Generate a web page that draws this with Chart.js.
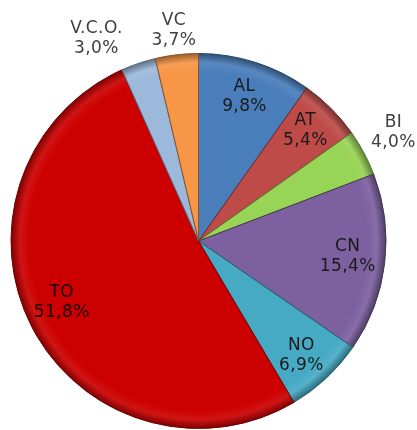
<!DOCTYPE html>
<html>
<head>
<meta charset="utf-8">
<script src="https://cdn.jsdelivr.net/npm/chart.js@4.4.0/dist/chart.umd.min.js"></script>
<style>
html, body { margin: 0; padding: 0; background: #fff; }
#wrap { width: 417px; height: 430px; }
</style>
</head>
<body>
<div id="wrap"><canvas id="myChart"></canvas></div>
<script>
const labels = ['AL', 'AT', 'BI', 'CN', 'NO', 'TO', 'V.C.O.', 'VC'];
const shares = [9.8, 5.4, 4.0, 15.4, 6.9, 51.8, 3.0, 3.7];
const colors = ['#4a7ebb', '#be4b48', '#98d455', '#7d60a0', '#46aac5', '#cc0000', '#9cb8db', '#f79646'];
// where each label sits: fraction of the radius and a small angle nudge (deg)
const labelRadius = [0.81, 0.82, 1.19, 0.80, 0.82, 0.80, 1.21, 1.13];
const labelNudge = [0, -1, -1, -1, 1, 3, -8, 0];
const labelColor = ['#1a1a1a', '#1a1a1a', '#404040', '#1a1a1a', '#1a1a1a', '#1a0000', '#404040', '#404040'];

function shade(hex, amt) {
    let n = parseInt(hex.slice(1), 16);
    let r = n >> 16, g = (n >> 8) & 255, b = n & 255;
    const f = c => amt < 0 ? Math.round(c * (1 + amt)) : Math.round(c + (255 - c) * amt);
    return 'rgb(' + f(r) + ',' + f(g) + ',' + f(b) + ')';
}

function sliceFill(context) {
    const chart = context.chart;
    const base = colors[context.dataIndex];
    const area = chart.chartArea;
    if (!area) return base;
    const cx = (area.left + area.right) / 2;
    const cy = (area.top + area.bottom) / 2;
    const r = Math.min(area.right - area.left, area.bottom - area.top) / 2;
    const g = chart.ctx.createRadialGradient(cx, cy, 0, cx, cy, r);
    g.addColorStop(0, base);
    g.addColorStop(0.9, base);
    g.addColorStop(0.95, shade(base, 0.08));
    g.addColorStop(1, shade(base, -0.4));
    return g;
}

const pieLabels = {
    id: 'pieLabels',
    afterDatasetsDraw(chart) {
        const ctx = chart.ctx;
        const meta = chart.getDatasetMeta(0);
        ctx.save();
        ctx.font = '17px "DejaVu Sans", Verdana, sans-serif';
        ctx.letterSpacing = '0.4px';
        ctx.textAlign = 'center';
        ctx.textBaseline = 'middle';
        meta.data.forEach((arc, i) => {
            const p = arc.getProps(['x', 'y', 'startAngle', 'endAngle', 'outerRadius'], true);
            const mid = (p.startAngle + p.endAngle) / 2 + labelNudge[i] * Math.PI / 180;
            const px = p.x + Math.cos(mid) * p.outerRadius * labelRadius[i];
            const py = p.y + Math.sin(mid) * p.outerRadius * labelRadius[i];
            ctx.fillStyle = labelColor[i];
            ctx.fillText(labels[i], px, py - 10);
            ctx.fillText(shares[i].toFixed(1).replace('.', ',') + '%', px, py + 10);
        });
        ctx.restore();
    }
};

new Chart(document.getElementById('myChart'), {
    type: 'pie',
    data: {
        labels: labels,
        datasets: [{
            data: shares,
            backgroundColor: sliceFill,
            borderColor: colors.map(c => shade(c, -0.45)),
            borderWidth: 1
        }]
    },
    options: {
        responsive: true,
        maintainAspectRatio: false,
        animation: false,
        layout: {
            padding: { left: 10, right: 30, top: 53, bottom: 1 }
        },
        plugins: {
            legend: { display: false },
            tooltip: { enabled: false }
        }
    },
    plugins: [pieLabels]
});
</script>
</body>
</html>
